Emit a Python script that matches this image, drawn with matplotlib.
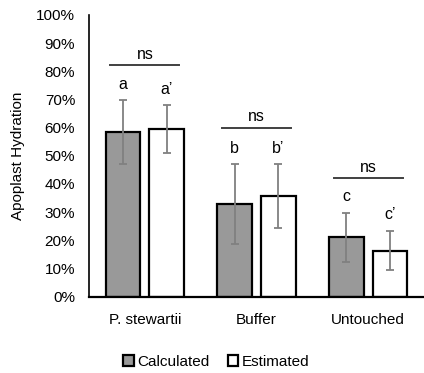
import numpy as np
import matplotlib
matplotlib.use('Agg')
import matplotlib.pyplot as plt

plt.rcParams['font.family'] = ['Liberation Sans', 'DejaVu Sans']

categories = ['P. stewartii', 'Buffer', 'Untouched']
calculated = [58.5, 32.7, 21.1]
calculated_err = [11.3, 14.2, 8.7]
estimated = [59.5, 35.7, 16.3]
estimated_err = [8.4, 11.3, 7.0]
calc_letters = ['a', 'b', 'c']
est_letters = ["a’", "b’", "c’"]
ns_level = [82.2, 59.9, 42.1]

fig = plt.figure(figsize=(4.24, 3.73), dpi=100)
ax = fig.add_axes([0.21, 0.205, 0.79, 0.755])

x = np.arange(len(categories))
w = 0.31
gap = 0.04
xc = x - w / 2 - gap
xe = x + w / 2 + gap

ekw = dict(ecolor='#808080', elinewidth=1.3, capsize=3.2, capthick=1.3)
ax.bar(xc, calculated, w, color='#999999', edgecolor='black', linewidth=1.6,
       yerr=calculated_err, error_kw=ekw, label='Calculated', zorder=2)
ax.bar(xe, estimated, w, color='white', edgecolor='black', linewidth=1.6,
       yerr=estimated_err, error_kw=ekw, label='Estimated', zorder=2)

for i in range(len(categories)):
    ax.text(xc[i], calculated[i] + calculated_err[i] + 3, calc_letters[i],
            ha='center', va='bottom', fontsize=11.5)
    ax.text(xe[i], estimated[i] + estimated_err[i] + 3, est_letters[i],
            ha='center', va='bottom', fontsize=11.5)
    ax.plot([x[i] - 0.31, x[i] + 0.31], [ns_level[i]] * 2, color='#404040', lw=1.4)
    ax.text(x[i], ns_level[i] + 1.2, 'ns', ha='center', va='bottom', fontsize=11.5)

ax.set_xlim(-0.5, 2.5)
ax.set_ylim(0, 100)
ax.set_yticks(np.arange(0, 101, 10))
ax.set_yticklabels([f'{v}%' for v in range(0, 101, 10)], fontsize=11)
ax.set_xticks(x)
ax.set_xticklabels(categories, fontsize=11)
ax.tick_params(length=0, pad=10)
ax.tick_params(axis='x', pad=12)
for s in ['top', 'right']:
    ax.spines[s].set_visible(False)
ax.spines['left'].set_color('black')
ax.spines['bottom'].set_color('black')
ax.spines['left'].set_linewidth(1.2)
ax.spines['bottom'].set_linewidth(1.6)
ax.set_ylabel('Apoplast Hydration', fontsize=11, labelpad=8)

fig.legend(loc='lower center', bbox_to_anchor=(0.51, -0.025), ncol=2, frameon=False,
           fontsize=11, handlelength=0.7, handleheight=0.7, handletextpad=0.2,
           columnspacing=1.2)

fig.savefig('out.png', dpi=100)
